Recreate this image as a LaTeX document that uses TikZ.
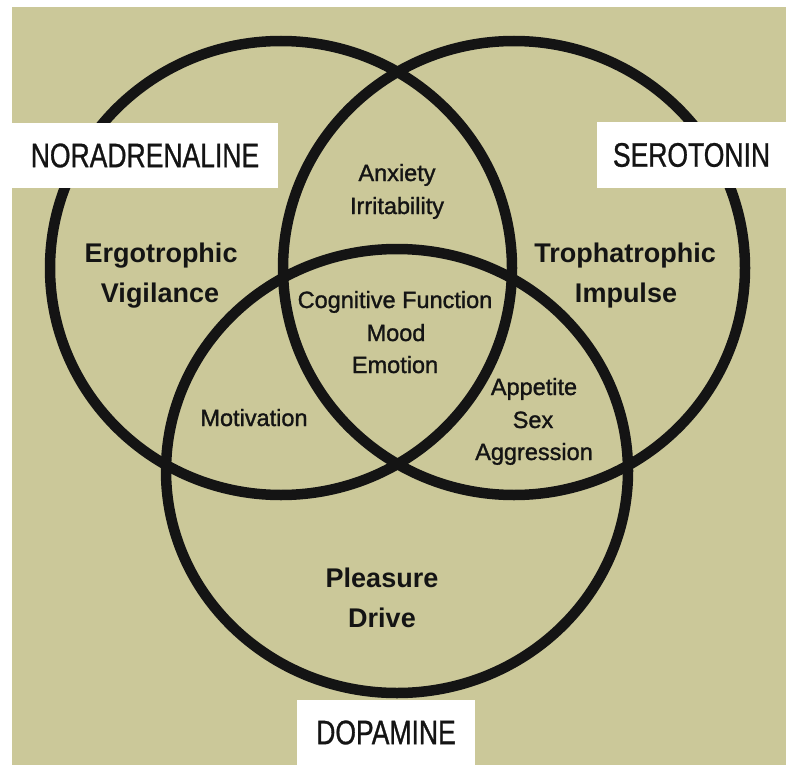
\documentclass[tikz,border=0pt]{standalone}
\usepackage{fontspec}
\setmainfont{Liberation Sans}
\newfontfamily\lblfont[FakeStretch=0.78,FakeBold=0.8]{Liberation Sans}
\newfontfamily\medfont[FakeBold=1.3]{Liberation Sans}
\definecolor{khaki}{HTML}{CBC899}
\definecolor{ink}{HTML}{141414}
\tikzset{
  ring/.style={draw=ink, line width=10.5pt},
  boldtxt/.style={text=ink, font=\fontsize{27}{32}\selectfont\bfseries, anchor=base, inner sep=0pt},
  regtxt/.style={text=ink, font=\medfont\fontsize{23.5}{28}\selectfont, anchor=base, inner sep=0pt},
  lbl/.style={fill=white, text=ink, font=\lblfont\fontsize{34}{40}\selectfont, inner sep=0pt}
}
\begin{document}
\begin{tikzpicture}[x=1pt,y=-1pt]
\useasboundingbox (0,0) rectangle (786,765);
\fill[white] (0,0) rectangle (786,765);
\fill[khaki] (12,7) rectangle (786,765);
% circles
\draw[ring] (281pt,-268pt) ellipse [x radius=231pt, y radius=227pt];
\draw[ring] (514pt,-268pt) ellipse [x radius=231pt, y radius=227pt];
\draw[ring] (397pt,-471pt) ellipse [x radius=231pt, y radius=222pt];
% bold region texts
\node[boldtxt] (ergo) at (161,262) {Ergotrophic};
\node[boldtxt] (vig) at (160,302) {Vigilance};
\node[boldtxt] (troph) at (625,262) {Trophatrophic};
\node[boldtxt] (imp) at (626,302) {Impulse};
\node[boldtxt] (plea) at (382,587) {Pleasure};
\node[boldtxt] (drive) at (382,627) {Drive};
% regular texts
\node[regtxt] (anx) at (397,181) {Anxiety};
\node[regtxt] (irr) at (397,214) {Irritability};
\node[regtxt] (cog) at (395,308) {Cognitive Function};
\node[regtxt] (mood) at (396,341) {Mood};
\node[regtxt] (emo) at (395,373) {Emotion};
\node[regtxt] (mot) at (254,426) {Motivation};
\node[regtxt] (app) at (534,395) {Appetite};
\node[regtxt] (sex) at (533,428) {Sex};
\node[regtxt] (aggr) at (534,460) {Aggression};
% labels
\node[lbl, minimum width=266pt, minimum height=65pt] (nor) at (145,155.5) {NORADRENALINE};
\node[lbl, minimum width=189pt, minimum height=66pt] (ser) at (691.5,155) {SEROTONIN};
\node[lbl, minimum width=178pt, minimum height=65pt] (dop) at (386,732.5) {DOPAMINE};
\end{tikzpicture}
\end{document}
